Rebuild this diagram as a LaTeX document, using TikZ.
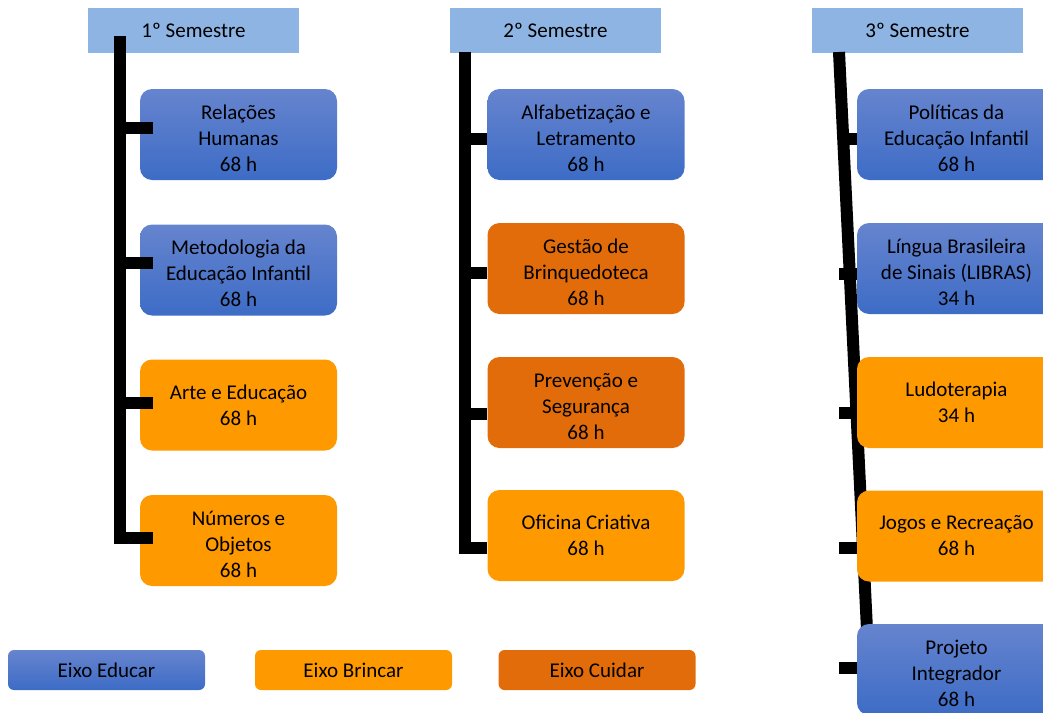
\documentclass[tikz,border=0pt]{standalone}
\usepackage{fontspec}
\setmainfont{Carlito}
\usetikzlibrary{positioning}
\definecolor{cabec}{RGB}{141,180,226}
\definecolor{azulA}{RGB}{102,132,206}
\definecolor{azulB}{RGB}{61,108,198}
\definecolor{laranja}{RGB}{255,153,0}
\definecolor{laranjaesc}{RGB}{227,108,10}
\newcommand{\topo}{\rule{0pt}{22pt}}

\begin{document}
\begin{tikzpicture}[x=1pt,y=-1pt]
	\tikzstyle{caixa}=[rounded corners=12pt,minimum width=197pt,minimum height=91pt,inner sep=0pt,align=center,font=\fontsize{21}{26}\selectfont]
	\tikzstyle{educar}=[caixa,top color=azulA,bottom color=azulB]
	\tikzstyle{brincar}=[caixa,fill=laranja]
	\tikzstyle{cuidar}=[caixa,fill=laranjaesc]
	\tikzstyle{semestre}=[fill=cabec,minimum width=211pt,minimum height=45pt,inner sep=0pt,font=\fontsize{21}{26}\selectfont]
	\tikzstyle{eixo}=[rounded corners=6pt,minimum height=40pt]
	\tikzstyle{haste}=[line width=12pt]

	\useasboundingbox (0,0) rectangle (1043,712);
	\clip (0,0) rectangle (1043,712);

	% cabecalhos
	\node[semestre] (h1) at (193.5,30) {1º Semestre};
	\node[semestre] (h2) at (555.5,30) {2º Semestre};
	\node[semestre] (h3) at (917.5,30) {3º Semestre};

	\coordinate (c1top) at (120,36);
	\coordinate (c2top) at (464.5,52);
	\coordinate (c3top) at (839,52);
	\coordinate (c3bot) at (867,630);
	\coordinate (c3stub) at (839,0);

	% haste do 3o semestre fica atras das caixas
	\draw[haste] (c3top) -- (c3bot);

	% 1o semestre
	\node[educar] (n11) at (238.5,134.5) {\topo Relações\\Humanas\\68 h};
	\node[educar] (n12) at (238.5,270) {\topo Metodologia da\\Educação Infantil\\68 h};
	\node[brincar] (n13) at (238.5,405) {Arte e Educação\\68 h};
	\node[brincar] (n14) at (238.5,540.5) {\topo Números e\\Objetos\\68 h};

	% 2o semestre
	\node[educar] (n21) at (586,134.5) {\topo Alfabetização e\\Letramento\\68 h};
	\node[cuidar] (n22) at (586,268.5) {\topo Gestão de\\Brinquedoteca\\68 h};
	\node[cuidar] (n23) at (586,402.5) {\topo Prevenção e\\Segurança\\68 h};
	\node[brincar] (n24) at (586,535.5) {Oficina Criativa\\68 h};

	% 3o semestre
	\node[educar,minimum width=199pt] (n31) at (956.5,134.5) {\topo Políticas da\\Educação Infantil\\68 h};
	\node[educar,minimum width=199pt] (n32) at (956.5,268.5) {\topo Língua Brasileira\\de Sinais (LIBRAS)\\34 h};
	\node[brincar,minimum width=199pt] (n33) at (956.5,402.5) {Ludoterapia\\34 h};
	\node[brincar,minimum width=199pt] (n34) at (956.5,536) {Jogos e Recreação\\68 h};
	\node[educar,minimum width=199pt] (n35) at (956.5,669.5) {\topo Projeto\\Integrador\\68 h};

	% legenda
	\node[educar,eixo] (e1) at (106.5,670) {Eixo Educar};
	\node[brincar,eixo] (e2) at (353.5,670) {Eixo Brincar};
	\node[cuidar,eixo] (e3) at (597,670) {Eixo Cuidar};

	% ligacoes
	\draw[haste] (c1top) |- ([xshift=13pt,yshift=3pt]n14.west);
	\foreach \n/\d in {n11/6.5,n12/7,n13/2}
		\draw[haste] ([yshift=\d pt]\n.west -| c1top) -- ([xshift=13pt,yshift=\d pt]\n.west);

	\draw[haste] (c2top) |- ([yshift=-12.5pt]n24.west);
	\foreach \n/\d in {n21/-4.5,n22/-4.5,n23/-11}
		\draw[haste] ([yshift=\d pt]\n.west -| c2top) -- ([yshift=\d pt]\n.west);

	\foreach \n/\d in {n31/-4.5,n32/-5,n33/-10.5,n34/-12,n35/2}
		\draw[haste] ([yshift=\d pt]\n.west -| c3stub) -- ([yshift=\d pt]\n.west);
\end{tikzpicture}
\end{document}
